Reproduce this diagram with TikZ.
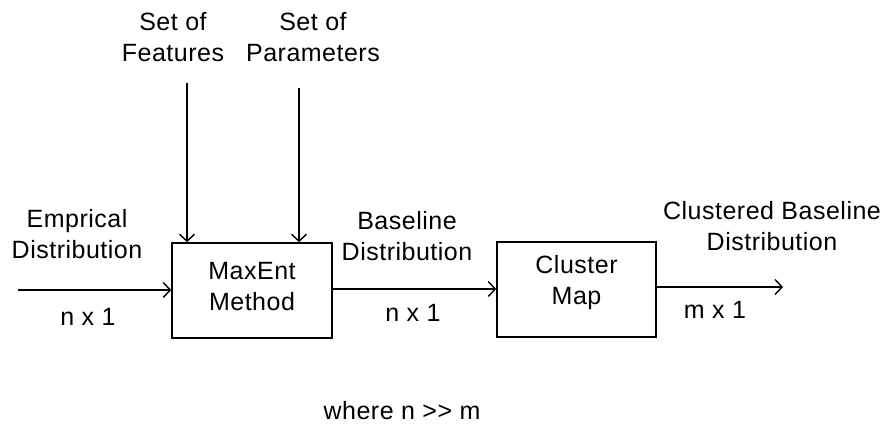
\documentclass[tikz,border=0pt]{standalone}
\usepackage{fontspec}
\setmainfont[LetterSpace=2]{Liberation Sans}
\usetikzlibrary{arrows.meta}

\begin{document}
\begin{tikzpicture}[x=1pt,y=-1pt,
  every node/.style={font=\fontsize{25}{31}\selectfont, inner sep=0pt, align=center},
  blockbox/.style={draw, line width=1.6pt, minimum width=160pt, minimum height=95pt},
  flow/.style={line width=1.6pt, -{Straight Barb[length=7pt,width=15pt,line width=1.4pt]}}
]
  % canvas
  \fill[white] (0,0) rectangle (886,427);
  \useasboundingbox (0,0) rectangle (886,427);

  % processing blocks
  \node[blockbox] (maxent) at (252,290.5) {};
  \node[blockbox, minimum width=159pt] (cluster) at (576.5,289.5) {};
  \node (maxenttxt) at (252,287) {MaxEnt\\Method};
  \node (clustertxt) at (576.5,283) {Cluster\\Map};

  % free ends of the connectors
  \coordinate (src)  at (18,290);
  \coordinate (feat) at (187,83);
  \coordinate (par)  at (299,88);
  \coordinate (sink) at (783,287);

  % connectors
  \draw[flow] (src) -- (src -| maxent.west);
  \draw[flow] (feat) -- (feat |- maxent.north);
  \draw[flow] (par) -- (par |- maxent.north);
  \draw[flow] (maxent.east |- 0,289) -- (cluster.west |- 0,289);
  \draw[flow] (cluster.east |- sink) -- (sink);

  % labels
  \node (lfeat)  at (173,37)  {Set of\\Features};
  \node (lpar)   at (313,37)  {Set of\\Parameters};
  \node (lemp)   at (77,234)  {Emprical\\Distribution};
  \node (ldim1)  at (88,317)  {n x 1};
  \node (lbase)  at (407,236) {Baseline\\Distribution};
  \node (ldim2)  at (413,313) {n x 1};
  \node (lclus)  at (772,226) {Clustered Baseline\\Distribution};
  \node (ldim3)  at (715,310) {m x 1};
  \node (lnote)  at (402,411) {where n >{}> m};
\end{tikzpicture}
\end{document}
